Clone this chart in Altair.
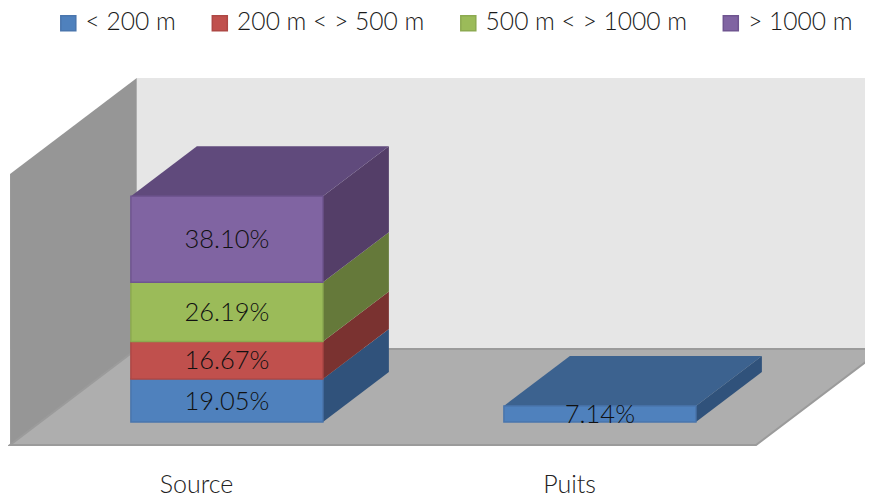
import altair as alt
import pandas as pd

categories = ["Source", "Puits"]
series = ["< 200 m", "200 m < > 500 m", "500 m < > 1000 m", "> 1000 m"]
source_values = [19.05, 16.67, 26.19, 38.10]
puits_values = [7.14, 0, 0, 0]
labels = ["19.05%", "16.67%", "26.19%", "38.10%"]
puits_labels = ["7.14%"]

front_colors = ["#4F81BD", "#C0504D", "#9BBB59", "#8064A2"]
edge_colors = ["#4A76AD", "#AE4845", "#8CAA50", "#6F5590"]
top_colors = ["#3C628F", "#7F3533", "#677C3B", "#604A7C"]
side_colors = ["#30527B", "#7A3230", "#65793A", "#543E68"]
WALL_BACK, WALL_LEFT, FLOOR, WALL_EDGE = "#E6E6E6", "#969696", "#AEAEAE", "#9B9B9B"
FONT = "Lato"

# Oblique projection of the 3D box: depth z shifts right and upward.
DX, DV = 66, 50 / 2.257
ZF, ZB = -0.46, 1.46
XL, XR, VTOP = 40.4, 786.4, 120.1
BAR_W = 192


def px(x, z):
    return x + DX * z


def pv(v, z):
    return v + DV * z


slot = (XR - XL) / len(categories)
centers = [XL + slot * (i + 0.5) for i in range(len(categories))]

fronts, sides, tops, texts = [], [], [], []
for c, (cat, vals, lab) in enumerate(zip(categories, [source_values, puits_values], [labels, puits_labels])):
    x0, x1 = centers[c] - BAR_W / 2, centers[c] + BAR_W / 2
    base = 0
    last = 0
    for s, v in enumerate(vals):
        if v == 0:
            continue
        top = base + v
        fronts.append(dict(cat=cat, series=series[s], x=x0, x2=x1, y=base, y2=top))
        texts.append(dict(x=centers[c], y=base + v / 2, text=lab[s]))
        for z in (0, 1):
            sides.append(dict(id=f"{c}-{s}", x=px(x1, z), y=pv(base, z), y2=pv(top, z), fill=side_colors[s]))
        base, last = top, s
    for z in (0, 1):
        tops.append(dict(id=str(c), y=pv(base, z), x=px(x0, z), x2=px(x1, z), fill=top_colors[last]))

X = alt.X("x:Q", scale=alt.Scale(domain=[8, 865], nice=False, zero=False), axis=None)
Y = alt.Y("y:Q", scale=alt.Scale(domain=[-33.23, 183.43], nice=False, zero=False), axis=None)

back = alt.Chart(pd.DataFrame([dict(x=px(XL, ZB), x2=px(XR + 200, ZB), y=pv(0, ZB), y2=pv(VTOP, ZB))])).mark_rect(
    color=WALL_BACK, clip=True).encode(x=X, x2="x2:Q", y=Y, y2="y2:Q")
left = alt.Chart(pd.DataFrame([dict(x=px(XL, z), y=pv(0, z), y2=pv(VTOP, z)) for z in (ZF, ZB)])).mark_area(
    color=WALL_LEFT, orient="vertical", clip=True).encode(x=X, y=Y, y2="y2:Q")
floor = alt.Chart(pd.DataFrame([dict(y=pv(0, z), x=px(XL, z), x2=px(XR, z)) for z in (ZF, ZB)])).mark_area(
    color=FLOOR, orient="horizontal", stroke=WALL_EDGE, strokeWidth=2, clip=True).encode(x=X, x2="x2:Q", y=Y)

side_layer = alt.Chart(pd.DataFrame(sides)).mark_area(orient="vertical").encode(
    x=X, y=Y, y2="y2:Q", detail="id:N", color=alt.Color("fill:N", scale=None))
top_layer = alt.Chart(pd.DataFrame(tops)).mark_area(orient="horizontal").encode(
    x=X, x2="x2:Q", y=Y, detail="id:N", color=alt.Color("fill:N", scale=None))
legend = alt.Legend(
    title=None, orient="none", legendX=48, legendY=3, direction="horizontal", columns=4,
    symbolType="square", symbolSize=225, symbolStrokeWidth=1.5, symbolOpacity=1,
    labelFont=FONT, labelFontWeight=300, labelFontSize=24.6, labelColor="#1a1a1a", labelLimit=300,
    labelOffset=5, columnPadding=31.5, symbolOffset=0)
front_layer = alt.Chart(pd.DataFrame(fronts)).mark_rect(strokeWidth=1.5).encode(
    x=X, x2="x2:Q", y=Y, y2="y2:Q",
    color=alt.Color("series:N", scale=alt.Scale(domain=series, range=front_colors), legend=legend),
    stroke=alt.Stroke("series:N", scale=alt.Scale(domain=series, range=edge_colors), legend=legend),
)
value_text = alt.Chart(pd.DataFrame(texts)).mark_text(
    font=FONT, fontWeight=300, fontSize=25.5, color="#111111", align="center", baseline="middle", dy=1).encode(
    x=X, y=Y, text="text:N")
cat_text = alt.Chart(pd.DataFrame([
    dict(x=px(centers[i], ZF), y=-27.9, text=categories[i]) for i in range(len(categories))
])).mark_text(font=FONT, fontWeight=300, fontSize=25, color="#222222", align="center", baseline="middle").encode(
    x=X, y=Y, text="text:N")

chart = alt.layer(back, left, floor, side_layer, top_layer, front_layer, value_text, cat_text).properties(
    width=857, height=489, padding=0, autosize=alt.AutoSizeParams(type="none", contains="padding"),
    background="white",
).configure_view(stroke=None)

chart.save("out.html", embed_options={"renderer": "svg", "actions": False})
